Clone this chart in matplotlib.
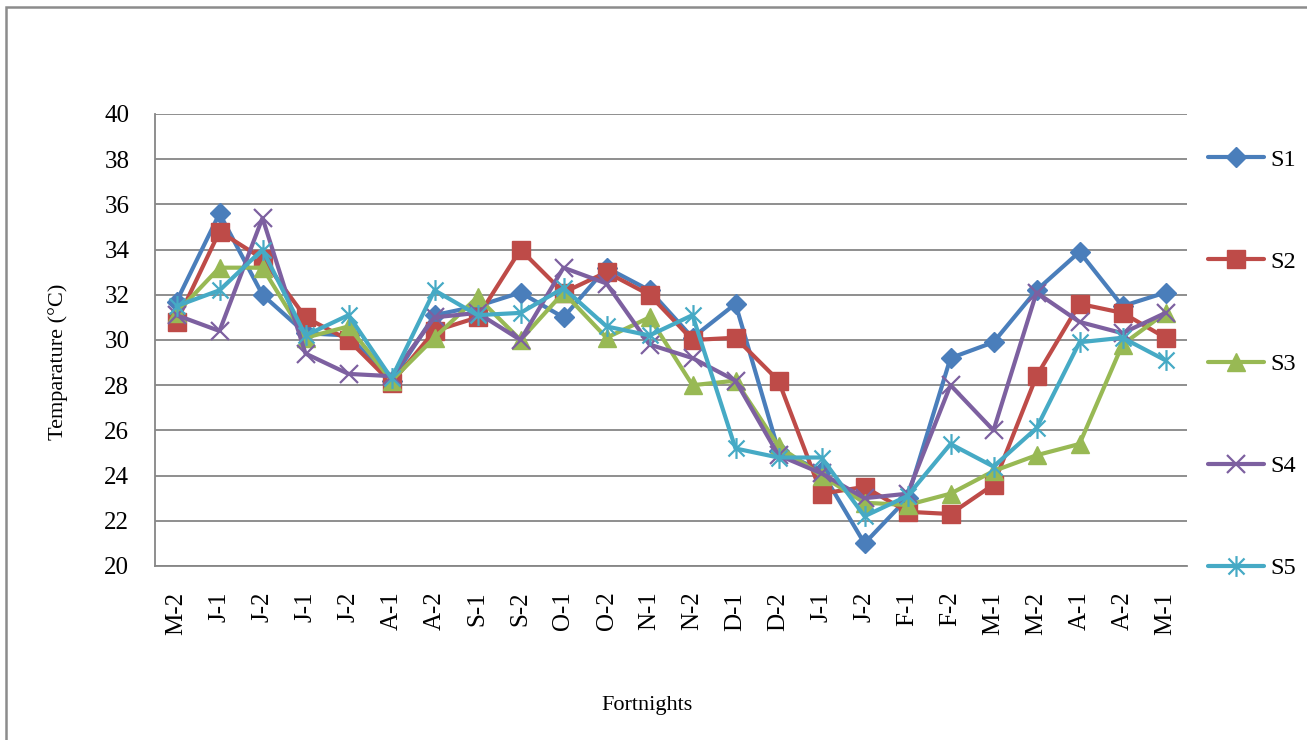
import matplotlib
matplotlib.use("Agg")
import matplotlib.pyplot as plt
from matplotlib.path import Path
from matplotlib.patches import Rectangle

plt.rcParams['font.family'] = ['Liberation Serif', 'DejaVu Serif']

fortnights = ['M-2', 'J-1', 'J-2', 'J-1', 'J-2', 'A-1', 'A-2', 'S-1', 'S-2', 'O-1',
              'O-2', 'N-1', 'N-2', 'D-1', 'D-2', 'J-1', 'J-2', 'F-1', 'F-2', 'M-1',
              'M-2', 'A-1', 'A-2', 'M-1']

s1 = [31.7, 35.6, 32.0, 30.3, 30.2, 28.2, 31.1, 31.5, 32.1, 31.0, 33.2, 32.2,
      30.1, 31.6, 25.1, 24.2, 21.0, 23.0, 29.2, 29.9, 32.2, 33.9, 31.5, 32.1]
s2 = [30.8, 34.8, 33.6, 31.0, 30.0, 28.1, 30.4, 31.0, 34.0, 32.1, 33.0, 32.0,
      30.0, 30.1, 28.2, 23.2, 23.5, 22.4, 22.3, 23.6, 28.4, 31.6, 31.2, 30.1]
s3 = [31.2, 33.2, 33.2, 30.1, 30.6, 28.2, 30.1, 31.9, 30.0, 32.1, 30.1, 31.0,
      28.0, 28.2, 25.3, 24.0, 22.8, 22.7, 23.2, 24.2, 24.9, 25.4, 29.8, 31.2]
s4 = [31.1, 30.4, 35.4, 29.4, 28.5, 28.4, 31.0, 31.2, 30.0, 33.2, 32.5, 29.8,
      29.2, 28.2, 24.9, 24.1, 23.0, 23.2, 28.0, 26.0, 32.1, 30.8, 30.3, 31.2]
s5 = [31.5, 32.2, 34.0, 30.2, 31.1, 28.3, 32.2, 31.1, 31.2, 32.3, 30.6, 30.2,
      31.1, 25.2, 24.8, 24.8, 22.2, 23.1, 25.4, 24.4, 26.1, 29.9, 30.1, 29.1]

series_names = ['S1', 'S2', 'S3', 'S4', 'S5']
y_ticks = list(range(20, 41, 2))

# asterisk marker: an X with a vertical stroke
star = Path([(-1, -1), (1, 1), (-1, 1), (1, -1), (0, -1.3), (0, 1.3)],
            [Path.MOVETO, Path.LINETO, Path.MOVETO, Path.LINETO,
             Path.MOVETO, Path.LINETO])

styles = [
    dict(color='#4A7EBB', marker='D', ms=10, mec='#4A7EBB', mfc='#4A7EBB'),
    dict(color='#BE4B48', marker='s', ms=13, mec='#BE4B48', mfc='#BE4B48'),
    dict(color='#98B954', marker='^', ms=13, mec='#98B954', mfc='#98B954'),
    dict(color='#7D60A0', marker='x', ms=13, mec='#7D60A0', mew=1.6),
    dict(color='#46AAC5', marker=star, ms=15, mec='#46AAC5', mfc='none', mew=1.6),
]

fig = plt.figure(figsize=(13.07, 7.40), dpi=100)
W, H = 1307, 740

# outer chart border
fig.patches.append(Rectangle((6 / W, -0.05), 1.1, 1 - 7 / H + 0.05,
                             transform=fig.transFigure, fill=False,
                             edgecolor='#8C8C8C', linewidth=1.8))

ax = fig.add_axes([155 / W, 1 - 566 / H, (1187 - 155) / W, (566 - 114) / H])
x = list(range(len(fortnights)))
for name, vals, st in zip(series_names, [s1, s2, s3, s4, s5], styles):
    ax.plot(x, vals, lw=3, label=name, solid_joinstyle='round',
            solid_capstyle='round', **st)

ax.set_xlim(-0.5, len(fortnights) - 0.5)
ax.set_ylim(20, 40)
ax.set_yticks(y_ticks)
ax.set_xticks(x)
ax.set_xticklabels(fortnights, rotation=90)
ax.tick_params(axis='both', length=0, labelsize=18, colors='black')
ax.tick_params(axis='y', pad=18.5)
ax.tick_params(axis='x', pad=18.5)
ax.grid(axis='y', color='#868686', linewidth=1.3)
ax.set_axisbelow(True)
for side in ['top', 'right']:
    ax.spines[side].set_visible(False)
for side in ['left', 'bottom']:
    ax.spines[side].set_color('#868686')
    ax.spines[side].set_linewidth(1.3)

ax.set_ylabel('Temparature (°C)', fontsize=16)
ax.yaxis.set_label_coords(-0.084, 0.451)
ax.set_xlabel('Fortnights', fontsize=16)
ax.xaxis.set_label_coords(0.477, -0.287)

fig.legend(loc='center left', bbox_to_anchor=(1208 / W, 1 - 364 / H),
           frameon=False, fontsize=17.5, labelspacing=3.3, handlelength=2.3,
           handletextpad=0.25, borderpad=0, borderaxespad=0)

fig.savefig('out.png', dpi=100)
